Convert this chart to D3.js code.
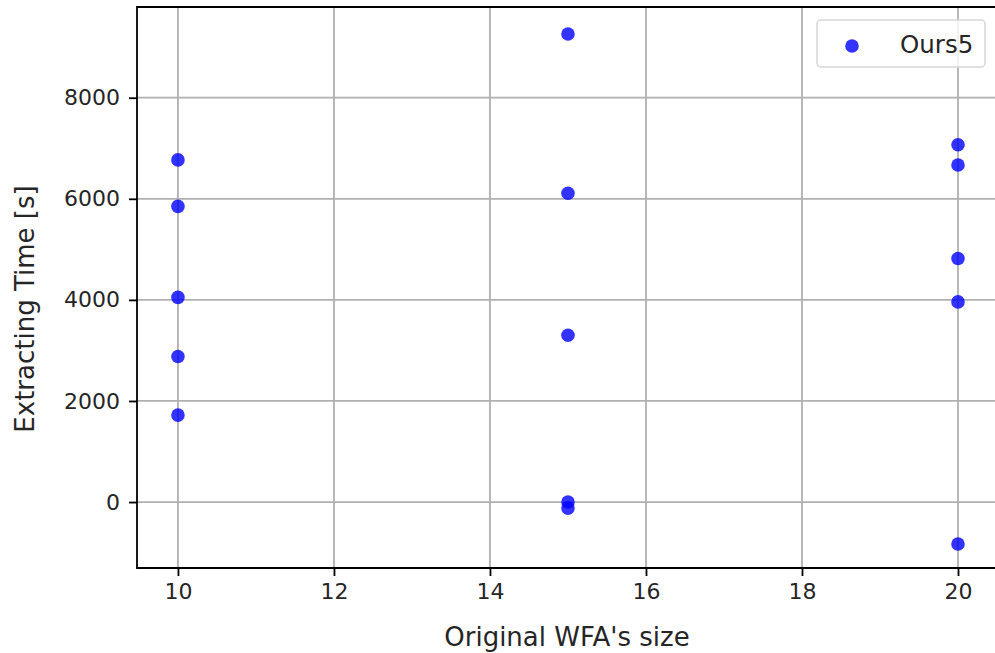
<!DOCTYPE html>
<html>
<head>
<meta charset="utf-8">
<script src="https://cdn.jsdelivr.net/npm/d3@7"></script>
<style>
  body { margin: 0; background: #fff; }
  svg text { font-family: "DejaVu Sans", sans-serif; fill: #262626; }
</style>
</head>
<body>
<div id="chart-area"></div>
<script>
// data
var sizes = [10, 10, 10, 10, 10, 15, 15, 15, 15, 15, 20, 20, 20, 20, 20];
var times = [6770, 5850, 4050, 2880, 1720,
             9260, 6110, 3300, 0, -120,
             7070, 6670, 4820, 3960, -830];
var xTicks = [10, 12, 14, 16, 18, 20];
var yTicks = [0, 2000, 4000, 6000, 8000];
var seriesName = "Ours5";

var W = 995, H = 653;
var margin = { left: 137, right: -2, top: 7, bottom: 85 };
var width = W - margin.left - margin.right,
    height = H - margin.top - margin.bottom;

var svg = d3.select("#chart-area")
    .append("svg")
        .attr("width", W)
        .attr("height", H);

var g = svg.append("g")
    .attr("transform", "translate(" + margin.left + "," + margin.top + ")");

// scales (xlim / ylim padded like matplotlib)
var x = d3.scaleLinear().domain([9.475, 20.5]).range([0, width]);
var y = d3.scaleLinear().domain([-1305, 9795]).range([height, 0]);

// grid
g.append("g").selectAll("line")
    .data(xTicks)
    .enter().append("line")
        .attr("x1", function(d){ return x(d); })
        .attr("x2", function(d){ return x(d); })
        .attr("y1", 0).attr("y2", height)
        .attr("stroke", "#b0b0b0").attr("stroke-width", 1.8);
g.append("g").selectAll("line")
    .data(yTicks)
    .enter().append("line")
        .attr("y1", function(d){ return y(d); })
        .attr("y2", function(d){ return y(d); })
        .attr("x1", 0).attr("x2", width)
        .attr("stroke", "#b0b0b0").attr("stroke-width", 1.8);

// X axis
var xAxisCall = d3.axisBottom(x).tickValues(xTicks).tickFormat(d3.format("d"))
    .tickSize(8).tickPadding(7).tickSizeOuter(0);
var xAxis = g.append("g")
    .attr("transform", "translate(0," + height + ")")
    .call(xAxisCall);

// Y axis
var yAxisCall = d3.axisLeft(y).tickValues(yTicks).tickFormat(d3.format("d"))
    .tickSize(8).tickPadding(9).tickSizeOuter(0);
var yAxis = g.append("g").call(yAxisCall);

[xAxis, yAxis].forEach(function(a){
    a.select(".domain").remove();
    a.selectAll(".tick line").attr("stroke", "#000").attr("stroke-width", 1.8);
    a.selectAll(".tick text").attr("font-size", "22px").attr("font-family", null).attr("fill", "#262626");
});

// frame (left, bottom, top spines)
g.append("path")
    .attr("d", "M" + (width + 5) + ",0H0V" + height + "H" + (width + 5))
    .attr("fill", "none")
    .attr("stroke", "#000")
    .attr("stroke-width", 1.8);

// points
g.selectAll("circle.pt")
    .data(sizes)
    .enter().append("circle")
        .attr("class", "pt")
        .attr("cx", function(d){ return x(d); })
        .attr("cy", function(d, i){ return y(times[i]); })
        .attr("r", 6.8)
        .attr("fill", "blue")
        .attr("fill-opacity", 0.8);

// legend
var leg = svg.append("g").attr("transform", "translate(817,20)");
leg.append("rect")
    .attr("width", 168).attr("height", 47).attr("rx", 4)
    .attr("fill", "#fff").attr("fill-opacity", 0.8)
    .attr("stroke", "#d6d6d6").attr("stroke-width", 1.5);
leg.append("circle")
    .attr("cx", 35).attr("cy", 26).attr("r", 6.8)
    .attr("fill", "blue").attr("fill-opacity", 0.8);
leg.append("text")
    .attr("x", 83).attr("y", 33)
    .attr("font-size", "24.5px")
    .text(seriesName);

// X label
svg.append("text")
    .attr("x", 567)
    .attr("y", 646)
    .attr("font-size", "26px")
    .attr("text-anchor", "middle")
    .text("Original WFA's size");

// Y label
svg.append("text")
    .attr("transform", "translate(34,309) rotate(-90)")
    .attr("font-size", "26px")
    .attr("text-anchor", "middle")
    .text("Extracting Time [s]");
</script>
</body>
</html>
